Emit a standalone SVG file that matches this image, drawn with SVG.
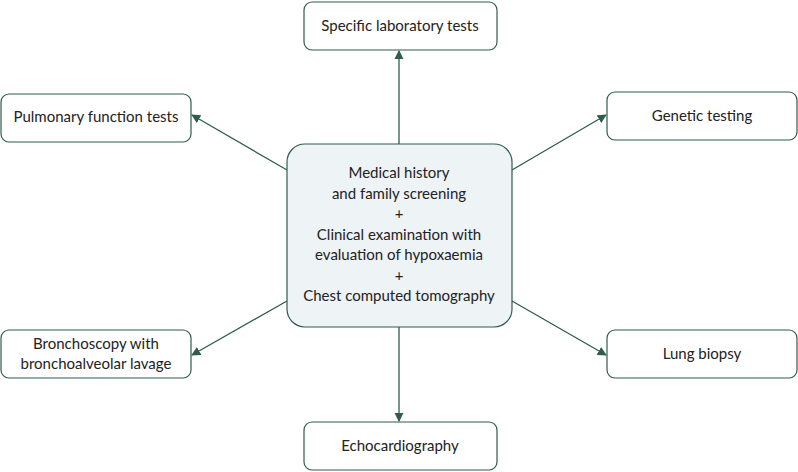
<svg xmlns="http://www.w3.org/2000/svg" width="798" height="472" viewBox="0 0 798 472">
<defs>
<style>
.box{fill:#fff;stroke:#2f5d4b;stroke-width:1.2}
.ctr{fill:#eef3f6;stroke:#2f5d4b;stroke-width:1.2}
text{font-family:"Lato","Liberation Sans",sans-serif;font-size:15px;fill:#222;text-anchor:middle}
.c line{stroke:#2f5d4b;stroke-width:1.3;marker-end:url(#a)}
</style>
<marker id="a" viewBox="0 0 10 10" refX="9" refY="5" markerWidth="7" markerHeight="7" orient="auto"><path d="M0,0L10,5L0,10z" fill="#2f5d4b"/></marker>
</defs>
<g class="c">
<line x1="399" y1="144" x2="399" y2="51"/>
<line x1="287" y1="170" x2="192" y2="115"/>
<line x1="512" y1="170" x2="606" y2="115"/>
<line x1="287" y1="301" x2="192" y2="355"/>
<line x1="512" y1="301" x2="606" y2="355"/>
<line x1="399" y1="327" x2="399" y2="421"/>
</g>
<g id="center"><rect class="ctr" x="287" y="144" width="225" height="183" rx="18"/>
<text x="399" y="178">Medical history</text><text x="399" y="199">and family screening</text><text x="399" y="219">+</text><text x="399" y="240">Clinical examination with</text><text x="399" y="260">evaluation of hypoxaemia</text><text x="399" y="281">+</text><text x="399" y="301">Chest computed tomography</text></g>
<g id="lab"><rect class="box" x="304" y="2" width="193" height="48" rx="8"/><text x="400" y="31">Specific laboratory tests</text></g>
<g id="pft"><rect class="box" x="1" y="94" width="190" height="48" rx="8"/><text x="96" y="122">Pulmonary function tests</text></g>
<g id="gen"><rect class="box" x="607" y="92" width="190" height="48" rx="8"/><text x="702" y="121">Genetic testing</text></g>
<g id="bron"><rect class="box" x="1" y="330" width="190" height="48" rx="8"/><text x="96" y="349">Bronchoscopy with</text><text x="96" y="369">bronchoalveolar lavage</text></g>
<g id="biopsy"><rect class="box" x="607" y="330" width="190" height="48" rx="8"/><text x="702" y="359">Lung biopsy</text></g>
<g id="echo"><rect class="box" x="304" y="422" width="193" height="48" rx="8"/><text x="400" y="451">Echocardiography</text></g>
</svg>
